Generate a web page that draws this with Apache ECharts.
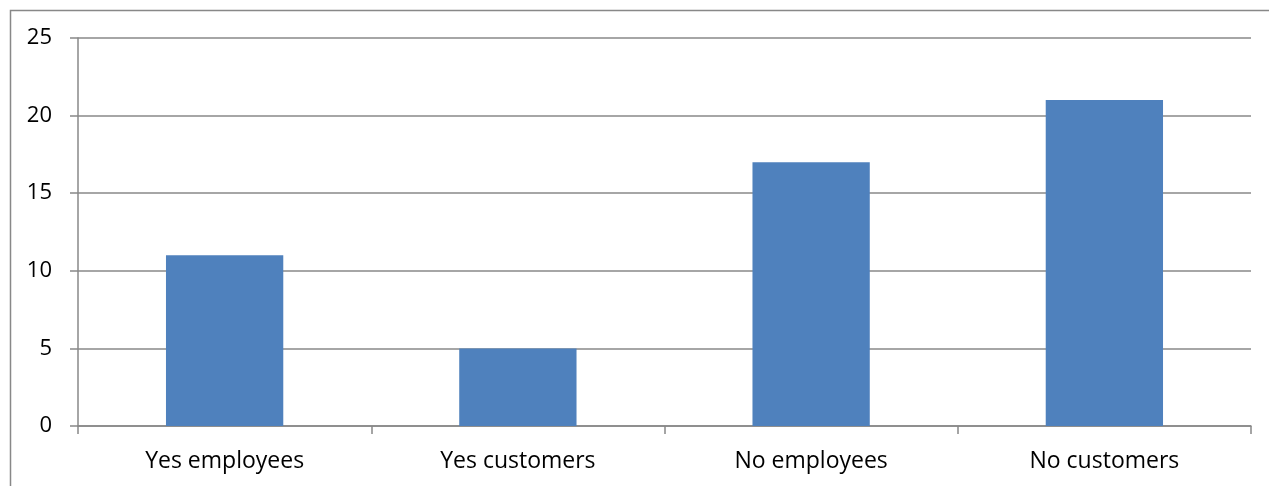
<!DOCTYPE html>
<html>
<head>
<meta charset="utf-8">
<script src="https://cdn.jsdelivr.net/npm/echarts@6/dist/echarts.min.js"></script>
<style>
  html, body { margin: 0; padding: 0; background: #fff; }
  #chart { width: 1269px; height: 486px; }
</style>
</head>
<body>
<div id="chart"></div>
<script>
// Survey answers grouped by response and respondent type
const categories = ['Yes employees', 'Yes customers', 'No employees', 'No customers'];
const counts = [11, 5, 17, 21];
const yTicks = { min: 0, max: 25, interval: 5 };

const lineColor = '#888888';
const font = '"Open Sans", "Liberation Sans", sans-serif';

const chart = echarts.init(document.getElementById('chart'));
chart.setOption({
  animation: false,
  backgroundColor: '#ffffff',
  graphic: [{
    type: 'rect',
    shape: { x: 10.5, y: 10.5, width: 1400, height: 600 },
    style: { fill: 'none', stroke: lineColor, lineWidth: 1.5 },
    silent: true
  }],
  grid: { left: 78, right: 18, top: 38, bottom: 60, containLabel: false },
  xAxis: {
    type: 'category',
    data: categories,
    axisLine: { show: true, lineStyle: { color: lineColor, width: 1.5 } },
    axisTick: { show: true, alignWithLabel: false, length: 8, lineStyle: { color: lineColor, width: 1.5 } },
    axisLabel: { color: '#000', fontFamily: font, fontSize: 23, margin: 24 }
  },
  yAxis: {
    type: 'value',
    min: yTicks.min,
    max: yTicks.max,
    interval: yTicks.interval,
    axisLine: { show: true, lineStyle: { color: lineColor, width: 1.5 } },
    axisTick: { show: true, length: 8, lineStyle: { color: lineColor, width: 1.5 } },
    axisLabel: { color: '#000', fontFamily: font, fontSize: 22, margin: 26 },
    splitLine: { show: true, lineStyle: { color: lineColor, width: 1.5 } }
  },
  series: [{
    type: 'bar',
    data: counts,
    barWidth: '40%',
    itemStyle: { color: '#4F81BD' }
  }]
});
</script>
</body>
</html>
